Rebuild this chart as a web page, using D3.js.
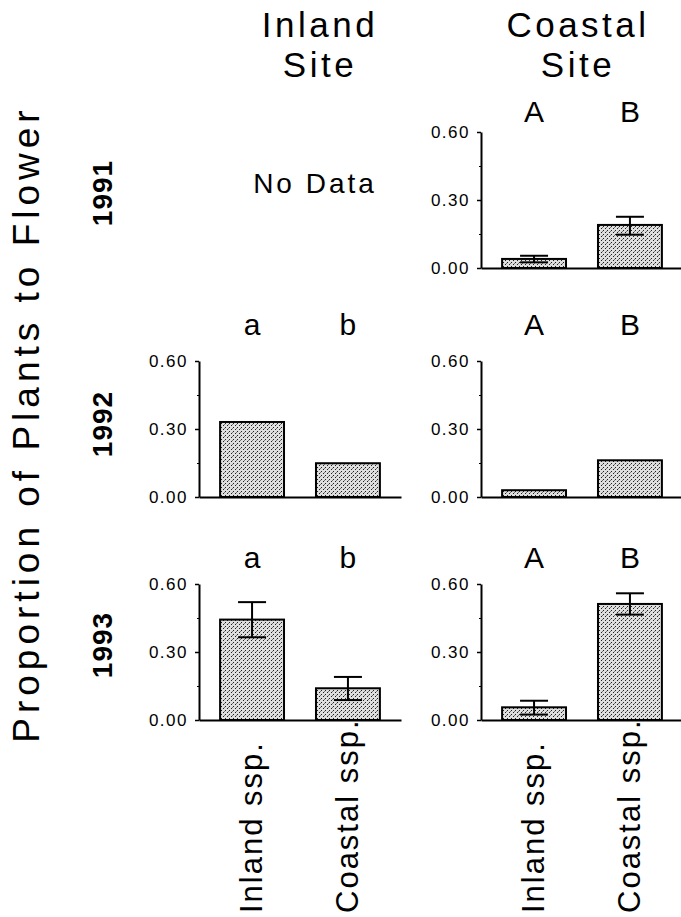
<!DOCTYPE html>
<html>
<head>
<meta charset="utf-8">
<script src="https://cdn.jsdelivr.net/npm/d3@7"></script>
<style>
  html, body { margin: 0; padding: 0; background: #fff; }
  svg text { font-family: "Liberation Sans", Arial, Helvetica, sans-serif; fill: #000; }
</style>
</head>
<body>
<svg id="chart" width="681" height="917"></svg>
<script>
  // Data
  var years = ['1991', '1992', '1993'];
  var siteTitles = [['Inland', 'Site'], ['Coastal', 'Site']];
  var subspecies = ['Inland ssp.', 'Coastal ssp.'];
  var yTicks = [0, 0.3, 0.6];
  var yMinorTicks = [0.15, 0.45];

  // means per year: [Inland ssp., Coastal ssp.]; null = no data
  var inlandSiteMean = [null, [0.331, 0.149], [0.443, 0.140]];
  var inlandSiteLow  = [null, null, [0.365, 0.088]];
  var inlandSiteHigh = [null, null, [0.520, 0.190]];
  var inlandSiteLetters = [null, ['a', 'b'], ['a', 'b']];

  var coastalSiteMean = [[0.040, 0.190], [0.030, 0.162], [0.056, 0.512]];
  var coastalSiteLow  = [[0.025, 0.147], null, [0.024, 0.465]];
  var coastalSiteHigh = [[0.054, 0.226], null, [0.085, 0.559]];
  var coastalSiteLetters = [['A', 'B'], ['A', 'B'], ['A', 'B']];

  var sites = [
    { mean: inlandSiteMean, low: inlandSiteLow, high: inlandSiteHigh, letters: inlandSiteLetters },
    { mean: coastalSiteMean, low: coastalSiteLow, high: coastalSiteHigh, letters: coastalSiteLetters }
  ];

  // Layout
  var colX = [199, 481],
    rowY = [132, 361, 584],
    panelH = 136,
    panelW = 202,
    letterY = [122, 335, 568],
    titleX = [320, 578],
    yearY = [193, 424, 645];

  var svg = d3.select('#chart');

  // stipple fill
  var pat = svg.append('defs').append('pattern')
    .attr('id', 'stipple')
    .attr('width', 4).attr('height', 4)
    .attr('patternUnits', 'userSpaceOnUse');
  pat.append('rect').attr('width', 4).attr('height', 4).attr('fill', '#dedede');
  pat.append('rect').attr('x', 0).attr('y', 0).attr('width', 1).attr('height', 1).attr('fill', '#222');
  pat.append('rect').attr('x', 2).attr('y', 2).attr('width', 1).attr('height', 1).attr('fill', '#222');
  pat.append('rect').attr('x', 1).attr('y', 3).attr('width', 1).attr('height', 1).attr('fill', '#777');

  var x = d3.scaleBand()
    .domain(subspecies)
    .range([0, panelW])
    .paddingInner(1 / 3)
    .paddingOuter(0.22);

  var y = d3.scaleLinear()
    .domain([0, 0.6])
    .range([panelH, 0]);

  // column titles
  siteTitles.forEach(function(t, c) {
    svg.append('text')
      .attr('x', titleX[c]).attr('y', 37)
      .attr('text-anchor', 'middle')
      .style('font-size', '35px').style('letter-spacing', '3.5px')
      .text(t[0]);
    svg.append('text')
      .attr('x', titleX[c]).attr('y', 77)
      .attr('text-anchor', 'middle')
      .style('font-size', '35px').style('letter-spacing', '3.5px')
      .text(t[1]);
  });

  // y title
  svg.append('text')
    .attr('transform', 'translate(39,424) rotate(-90)')
    .attr('text-anchor', 'middle')
    .style('font-size', '37px').style('letter-spacing', '5px')
    .text('Proportion of Plants to Flower');

  // year labels
  years.forEach(function(yr, r) {
    svg.append('text')
      .attr('transform', 'translate(112,' + yearY[r] + ') rotate(-90)')
      .attr('text-anchor', 'middle')
      .style('font-size', '28px').style('font-weight', 'bold').style('letter-spacing', '1px')
      .text(yr);
  });

  sites.forEach(function(site, c) {
    years.forEach(function(yr, r) {
      var means = site.mean[r];

      if (!means) {
        // No Data
        svg.append('text')
          .attr('x', 315).attr('y', 193)
          .attr('text-anchor', 'middle')
          .style('font-size', '28px').style('letter-spacing', '3px')
          .text('No Data');
        return;
      }

      var g = svg.append('g')
        .attr('transform', 'translate(' + colX[c] + ',' + rowY[r] + ')');

      // bars
      g.selectAll('rect.bar')
        .data(subspecies)
        .enter().append('rect')
          .attr('class', 'bar')
          .attr('x', function(d) { return x(d); })
          .attr('width', x.bandwidth())
          .attr('y', function(d, i) { return y(means[i]); })
          .attr('height', function(d, i) { return panelH - y(means[i]); })
          .attr('fill', 'url(#stipple)')
          .attr('stroke', '#000')
          .attr('stroke-width', 2);

      // error bars
      if (site.low[r]) {
        var lo = site.low[r], hi = site.high[r];
        var eb = g.selectAll('g.err')
          .data(subspecies)
          .enter().append('g')
            .attr('class', 'err')
            .attr('transform', function(d) { return 'translate(' + (x(d) + x.bandwidth() / 2) + ',0)'; })
            .attr('stroke', '#000')
            .attr('stroke-width', 2);
        eb.append('line')
          .attr('y1', function(d, i) { return y(lo[i]); })
          .attr('y2', function(d, i) { return y(hi[i]); });
        eb.append('line')
          .attr('x1', -14).attr('x2', 14)
          .attr('y1', function(d, i) { return y(hi[i]); })
          .attr('y2', function(d, i) { return y(hi[i]); });
        eb.append('line')
          .attr('x1', -14).attr('x2', 14)
          .attr('y1', function(d, i) { return y(lo[i]); })
          .attr('y2', function(d, i) { return y(lo[i]); });
      }

      // significance letters
      svg.selectAll(null)
        .data(subspecies)
        .enter().append('text')
          .attr('x', function(d) { return colX[c] + x(d) + x.bandwidth() / 2; })
          .attr('y', letterY[r])
          .attr('text-anchor', 'middle')
          .style('font-size', '30px')
          .text(function(d, i) { return site.letters[r][i]; });

      // y axis
      var ya = g.append('g')
        .call(d3.axisLeft(y).tickValues(yTicks).tickFormat(d3.format('.2f'))
          .tickSize(4).tickSizeOuter(0).tickPadding(7));
      ya.select('.domain').attr('stroke-width', 2);
      ya.selectAll('.tick line').attr('stroke-width', 1.5);
      ya.selectAll('.tick text')
        .style('font-size', '17px').style('letter-spacing', '1.5px')
        .attr('font-family', null);

      g.append('g')
        .call(d3.axisLeft(y).tickValues(yMinorTicks).tickFormat('').tickSize(2).tickSizeOuter(0))
        .call(function(s) { s.select('.domain').remove(); });

      // x axis
      var xa = g.append('g')
        .attr('transform', 'translate(0,' + panelH + ')')
        .call(d3.axisBottom(x).tickSize(0).tickSizeOuter(0)
          .tickFormat(r === years.length - 1 ? null : ''));
      xa.select('.domain').attr('stroke-width', 2);
      xa.selectAll('.tick text')
        .attr('transform', 'rotate(-90)')
        .attr('x', -193).attr('y', 10).attr('dy', 0)
        .attr('text-anchor', 'start')
        .attr('font-family', null)
        .style('font-size', '31px').style('letter-spacing', '2px');
    });
  });
</script>
</body>
</html>
